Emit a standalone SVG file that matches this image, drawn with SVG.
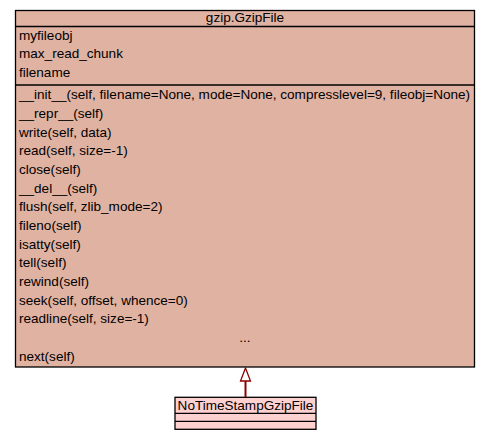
<svg xmlns="http://www.w3.org/2000/svg" width="491" height="440" viewBox="0 0 491 440">
<style>
text{font-family:"Liberation Sans",Arial,sans-serif;font-size:13.55px;fill:#000}
.c{text-anchor:middle}
.box{fill:#e0b2a2;stroke:#000;stroke-width:1.3}
.sbox{fill:#ffd0d0;stroke:#000;stroke-width:1.3}
.sep{stroke:#000;stroke-width:1.3}
</style>
<rect width="491" height="440" fill="#fff"/>
<g id="gzip.GzipFile">
<rect class="box" x="15.5" y="10.5" width="459" height="356.5"/>
<line class="sep" x1="15.5" y1="26.5" x2="474.5" y2="26.5"/>
<line class="sep" x1="15.5" y1="85" x2="474.5" y2="85"/>
<text class="c" x="245" y="22">gzip.GzipFile</text>
<text x="19" y="39.5">myfileobj</text>
<text x="19" y="58">max_read_chunk</text>
<text x="19" y="76.7">filename</text>
<text x="19" y="99.3">__init__(self, filename=None, mode=None, compresslevel=9, fileobj=None)</text>
<text x="19" y="118">__repr__(self)</text>
<text x="19" y="136.7">write(self, data)</text>
<text x="19" y="155.3">read(self, size=-1)</text>
<text x="19" y="174">close(self)</text>
<text x="19" y="192.7">__del__(self)</text>
<text x="19" y="211.3">flush(self, zlib_mode=2)</text>
<text x="19" y="230">fileno(self)</text>
<text x="19" y="248.7">isatty(self)</text>
<text x="19" y="267.3">tell(self)</text>
<text x="19" y="286">rewind(self)</text>
<text x="19" y="304.7">seek(self, offset, whence=0)</text>
<text x="19" y="323.3">readline(self, size=-1)</text>
<text class="c" x="245" y="342">...</text>
<text x="19" y="360.7">next(self)</text>
</g>
<g id="NoTimeStampGzipFile">
<rect class="sbox" x="175" y="397.3" width="141" height="32"/>
<line class="sep" x1="175" y1="413.3" x2="316" y2="413.3"/>
<line class="sep" x1="175" y1="421.3" x2="316" y2="421.3"/>
<text class="c" x="245.5" y="410">NoTimeStampGzipFile</text>
</g>
<g id="connectors">
<line x1="245.5" y1="397" x2="245.5" y2="381" stroke="#8b0000" stroke-width="2"/>
<polygon points="245.5,368 240.5,381 250.5,381" fill="#fff" stroke="#8b0000" stroke-width="1.3"/>
</g>
</svg>
